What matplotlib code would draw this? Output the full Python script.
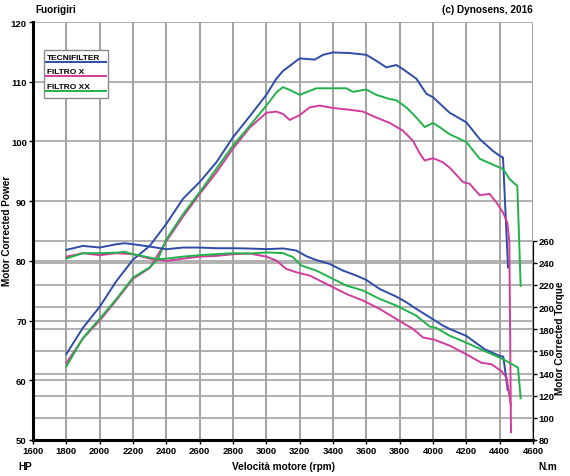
import numpy as np
import matplotlib
matplotlib.use('Agg')
import matplotlib.pyplot as plt
from matplotlib.patches import Rectangle

plt.rcParams['font.family'] = ['Liberation Sans', 'DejaVu Sans']
plt.rcParams['font.weight'] = 'bold'

# series names and colours
names = ['TECNIFILTER', 'FILTRO X', 'FILTRO XX']
colors = ['#2e4ca8', '#d23c9c', '#22b24a']

# power curves (HP)
rpm_pw_tecni = [1800, 1900, 2000, 2100, 2200, 2300, 2400, 2500, 2600, 2700, 2800, 2900, 3000,
                3060, 3100, 3200, 3290, 3340, 3400, 3500, 3600, 3660, 3720, 3780, 3820, 3900,
                3960, 4000, 4100, 4200, 4280, 4360, 4400, 4420, 4450]
pw_tecni = [64.4, 68.8, 72.3, 76.6, 80.2, 82.5, 86.2, 90.4, 93.2, 96.5, 100.7, 104.2, 107.8,
            110.5, 111.8, 113.9, 113.7, 114.5, 114.9, 114.8, 114.5, 113.5, 112.4, 112.8, 112.1, 110.5,
            108.0, 107.4, 104.8, 103.2, 100.4, 98.4, 97.6, 97.3, 78.9]

rpm_pw_x = [1800, 1900, 2000, 2100, 2200, 2300, 2400, 2500, 2600, 2700, 2800, 2900, 3000,
            3060, 3100, 3140, 3200, 3260, 3320, 3400, 3500, 3580, 3660, 3740, 3820, 3880,
            3920, 3950, 4000, 4060, 4100, 4180, 4220, 4280, 4340, 4380, 4420, 4446, 4458, 4468]
pw_x = [62.9, 67.0, 70.0, 73.4, 77.0, 78.8, 83.3, 87.4, 91.2, 94.8, 98.8, 102.3, 104.8,
        105.0, 104.6, 103.6, 104.4, 105.7, 106.0, 105.6, 105.3, 105.0, 104.0, 103.1, 101.8, 100.1,
        98.0, 96.8, 97.2, 96.5, 95.6, 93.2, 92.9, 91.0, 91.2, 89.8, 88.1, 86.4, 83.2, 51.3]

rpm_pw_xx = [1800, 1900, 2000, 2100, 2200, 2300, 2350, 2400, 2500, 2600, 2700, 2800, 2900, 3000,
             3060, 3100, 3150, 3200, 3300, 3400, 3480, 3520, 3600, 3660, 3740, 3780, 3840, 3900,
             3950, 4000, 4050, 4100, 4200, 4280, 4360, 4420, 4460, 4490, 4506, 4526]
pw_xx = [62.3, 67.1, 70.3, 73.6, 77.2, 78.9, 80.3, 83.6, 87.8, 91.5, 95.4, 99.3, 102.6, 106.0,
         108.2, 109.1, 108.5, 107.8, 108.9, 108.9, 108.9, 108.3, 108.7, 107.8, 107.1, 106.9, 105.7, 104.0,
         102.4, 103.1, 102.2, 101.2, 99.9, 97.1, 96.1, 95.4, 93.7, 92.9, 92.6, 75.8]

# torque curves (N.m)
rpm_tq_tecni = [1800, 1900, 2000, 2100, 2150, 2200, 2300, 2400, 2500, 2600, 2700, 2800, 2900,
                3000, 3100, 3180, 3240, 3300, 3380, 3460, 3540, 3600, 3680, 3780, 3840, 3900,
                3980, 4060, 4100, 4200, 4310, 4400, 4422, 4448]
tq_tecni = [251.7, 255.3, 253.8, 256.8, 257.7, 256.8, 254.7, 252.3, 253.8, 253.8, 253.2, 253.2, 252.9,
            252.4, 253.0, 251.1, 246.0, 242.5, 239.0, 233.0, 228.5, 224.5, 216.4, 209.5, 204.4, 198.4,
            190.9, 183.3, 180.3, 174.0, 162.0, 155.9, 155.3, 125.2]

rpm_tq_x = [1800, 1900, 2000, 2100, 2200, 2300, 2400, 2500, 2600, 2700, 2800, 2900, 3000,
            3060, 3120, 3180, 3260, 3380, 3480, 3580, 3680, 3780, 3880, 3940, 4010, 4100,
            4200, 4290, 4350, 4410, 4442, 4468]
tq_x = [245.6, 248.7, 246.9, 248.7, 247.8, 243.8, 241.7, 243.8, 245.6, 246.3, 247.8, 248.4, 245.6,
        242.0, 234.5, 231.5, 228.5, 219.5, 211.9, 205.9, 198.4, 189.3, 180.3, 172.6, 170.5, 165.2,
        157.4, 149.8, 148.4, 142.3, 136.3, 110.7]

rpm_tq_xx = [1800, 1900, 2000, 2100, 2150, 2200, 2300, 2350, 2400, 2500, 2600, 2700, 2800, 2900,
             3000, 3100, 3160, 3210, 3300, 3380, 3480, 3580, 3680, 3780, 3900, 3980, 4020, 4100,
             4200, 4300, 4400, 4440, 4510, 4526]
tq_xx = [244.0, 248.7, 248.7, 249.2, 249.9, 247.8, 244.8, 243.3, 243.8, 245.6, 246.9, 247.8, 248.7, 248.4,
         249.4, 248.8, 245.1, 237.6, 233.0, 227.0, 219.5, 215.0, 207.4, 201.4, 192.3, 182.5, 181.2, 174.2,
         167.9, 161.0, 154.4, 151.4, 145.4, 117.7]

x_ticks = np.arange(1600, 4601, 200)
hp_ticks = np.arange(50, 121, 10)
nm_ticks = np.arange(80, 261, 20)

power = [(rpm_pw_tecni, pw_tecni), (rpm_pw_x, pw_x), (rpm_pw_xx, pw_xx)]
torque = [(rpm_tq_tecni, tq_tecni), (rpm_tq_x, tq_x), (rpm_tq_xx, tq_xx)]

rect = [33 / 570, 36 / 477, 500 / 570, 418 / 477]
fig = plt.figure(figsize=(5.7, 4.77), dpi=100)
# back axes: torque scale and grid, front axes: power scale and the curves
axt = fig.add_axes(rect)
ax = fig.add_axes(rect)
ax.patch.set_visible(False)

for a in (ax, axt):
    a.set_xlim(1600, 4600)
    a.set_xticks(x_ticks)
ax.set_ylim(50, 120)
ax.set_yticks(hp_ticks)
axt.set_ylim(80, 457.5)
axt.set_yticks(nm_ticks)
axt.yaxis.tick_right()

grid_kw = dict(color='#a3a3a3', linewidth=1.2)
axt.grid(True, **grid_kw)
axt.set_axisbelow(True)
ax.set_axisbelow(True)
ax.yaxis.grid(True, **grid_kw)
# vertical grid drawn as plain lines in data coords (axis grid kept vanishing)
for xt in x_ticks:
    ax.plot([xt, xt], [50, 120], zorder=1, **grid_kw)

for (r, v), c in zip(power, colors):
    ax.plot(r, v, color=c, lw=1.4, zorder=3)
for (r, v), c in zip(torque, colors):
    ax.plot(r, v, color=c, lw=1.4, zorder=3, transform=axt.transData)

ax.tick_params(labelsize=6.8, length=3, width=1, pad=1.5, color='black', labelcolor='black')
axt.tick_params(axis='y', labelsize=6.8, length=3, width=1, pad=1, color='black', labelcolor='black')
axt.tick_params(axis='x', length=0, labelbottom=False)

for s in ['top', 'right']:
    ax.spines[s].set_visible(False)
ax.spines['left'].set_linewidth(2.2)
ax.spines['bottom'].set_linewidth(2.2)
for s in ['top', 'left', 'bottom']:
    axt.spines[s].set_visible(False)
axt.spines['right'].set_bounds(80, 260)

# legend box: labels with a line sample under each
ax.add_patch(Rectangle((0.022, 0.818), 0.128, 0.115, transform=ax.transAxes,
                       facecolor='white', edgecolor='#8a8a8a', lw=1, zorder=5))
text_y = [0.916, 0.881, 0.846]
line_y = [0.9055, 0.870, 0.835]
for n, c, ty, ly in zip(names, colors, text_y, line_y):
    ax.text(0.028, ty, n, transform=ax.transAxes, fontsize=6, va='center', zorder=6)
    ax.plot([0.026, 0.146], [ly, ly], color=c, lw=1.4, transform=ax.transAxes, zorder=6)

fig.text(35 / 570, 1 - 10 / 477, 'Fuorigiri', fontsize=7.2, va='center')
fig.text(533 / 570, 1 - 10 / 477, '(c) Dynosens, 2016', fontsize=7.2, va='center', ha='right')
fig.text(18 / 570, 1 - 467 / 477, 'HP', fontsize=7.2, va='center')
fig.text(283 / 570, 1 - 467 / 477, 'Velocità motore (rpm)', fontsize=7.2, va='center', ha='center')
fig.text(538 / 570, 1 - 467 / 477, 'N.m', fontsize=7.2, va='center')
fig.text(7 / 570, 1 - 231 / 477, 'Motor Corrected Power', fontsize=7.2, rotation=90,
         va='center', ha='center')
fig.text(560 / 570, 1 - 338 / 477, 'Motor Corrected Torque', fontsize=7.2, rotation=90,
         va='center', ha='center')

fig.savefig('out.png', dpi=100)
